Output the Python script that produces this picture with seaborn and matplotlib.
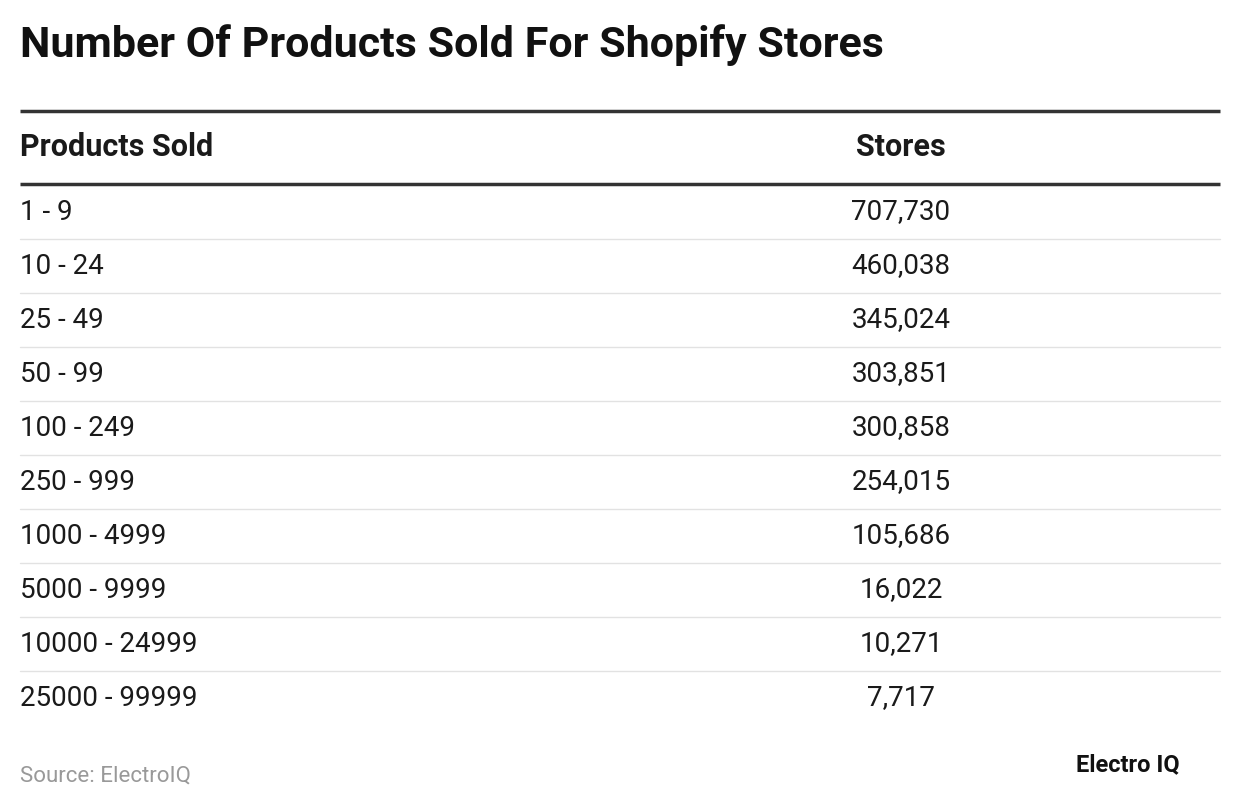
import matplotlib
matplotlib.use("Agg")
import matplotlib.pyplot as plt
import seaborn as sns

title = "Number Of Products Sold For Shopify Stores"
col_headers = ["Products Sold", "Stores"]
products_sold = ["1 - 9", "10 - 24", "25 - 49", "50 - 99", "100 - 249", "250 - 999",
                 "1000 - 4999", "5000 - 9999", "10000 - 24999", "25000 - 99999"]
stores = [707730, 460038, 345024, 303851, 300858, 254015, 105686, 16022, 10271, 7717]
source = "Source: ElectroIQ"
brand = "Electro IQ"

sns.set_theme(style="white", font="Roboto")
plt.rcParams["font.family"] = "Roboto"

fig = plt.figure(figsize=(12.4, 8.1), dpi=100)
ax = fig.add_axes([0, 0, 1, 1])
ax.set_xlim(0, 1240)
ax.set_ylim(810, 0)
ax.axis("off")

dark = "#1a1a1a"
ax.text(20, 45, title, fontsize=31, fontweight="bold", color="#111111", va="center")

# header
ax.plot([20, 1220], [111, 111], color="#333333", lw=2.5, solid_capstyle="butt")
ax.text(20, 147, col_headers[0], fontsize=22, fontweight="bold", color=dark, va="center")
ax.text(901, 147, col_headers[1], fontsize=22, fontweight="bold", color=dark, va="center", ha="center")
ax.plot([20, 1220], [184, 184], color="#333333", lw=2.5, solid_capstyle="butt")

# rows
row_h = 54
for i, (p, s) in enumerate(zip(products_sold, stores)):
    y = 212 + i * row_h
    ax.text(20, y, p, fontsize=20, color=dark, va="center")
    ax.text(901, y, f"{s:,}", fontsize=20, color=dark, va="center", ha="center")
    if i < len(products_sold) - 1:
        ax.plot([20, 1220], [y + 27, y + 27], color="#e2e2e2", lw=1)

ax.text(20, 776, source, fontsize=16, color="#999999", va="center")
ax.text(1128, 765, brand, fontsize=17, fontweight="bold", color="#111111", va="center", ha="center")

fig.savefig("out.png", dpi=100)
